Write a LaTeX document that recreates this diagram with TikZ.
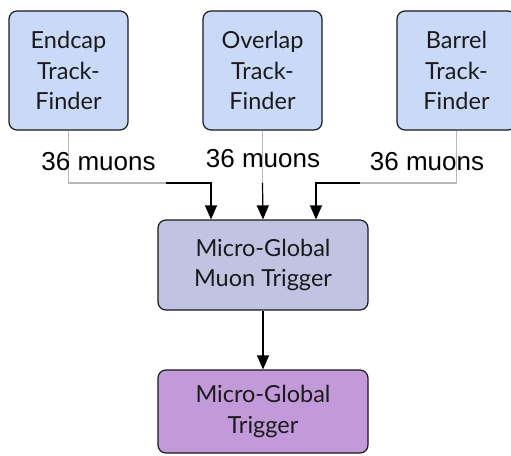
\documentclass[tikz,border=0pt]{standalone}
\usepackage{fontspec}
\setmainfont{Lato}
\newfontfamily\labelfont{Liberation Sans}
\usetikzlibrary{arrows.meta, positioning}

\begin{document}
\begin{tikzpicture}[
    x=1pt, y=-1pt,
    every node/.style={font=\fontsize{23.5}{30.5}\selectfont},
]

% ---------------------------------------------------------------- colours
\definecolor{tfcolor}{HTML}{C9DAF8}    % the three track-finders
\definecolor{gmtcolor}{HTML}{C0C3E2}   % muon trigger
\definecolor{gtcolor}{HTML}{C39AD9}    % global trigger
\definecolor{edgecolor}{HTML}{1A1A1A}
\definecolor{wirecolor}{HTML}{B8B8B8}

\tikzset{
    box/.style={draw=edgecolor, line width=1.2pt, rounded corners=8pt,
        align=center, text=edgecolor, inner sep=0pt},
    tfbox/.style={box, fill=tfcolor, minimum width=119pt, minimum height=119pt},
    trigbox/.style={box, minimum width=210pt},
    wire/.style={wirecolor, line width=1.2pt},
    feed/.style={-{Triangle[length=14pt, width=12pt]}, line width=1.2pt, black},
    count/.style={font=\labelfont\fontsize{26}{28}\selectfont, inner sep=0pt},
}

\useasboundingbox (0, 0) rectangle (511, 455);

% ================================================================
% Track-finders on top, muon trigger, then global trigger.
%   picture units are the reference pixels, y running downwards
% ================================================================

% ----------------------------------------------------------------------
% the three finders
% ----------------------------------------------------------------------
\node[tfbox] (endcap)  at (68.5, 70.5)  {Endcap\\Track-\\Finder};
\node[tfbox] (overlap) at (262.5, 70.5) {Overlap\\Track-\\Finder};
\node[tfbox] (barrel)  at (456.5, 70.5) {Barrel\\Track-\\Finder};

% ----------------------------------------------------------------------
% the two triggers
% ----------------------------------------------------------------------
\node[trigbox, fill=gmtcolor, minimum height=90pt] (ugmt) at (263, 265)
    {Micro-Global\\Muon Trigger};
\node[trigbox, fill=gtcolor, minimum height=83pt] (ugt) at (263, 411.5)
    {Micro-Global\\Trigger};

% ----------------------------------------------------------------------
% connectors: grey near the finders, black near the trigger
% ----------------------------------------------------------------------
\coordinate (ebend) at (endcap.south |- 0, 183);
\coordinate (efade) at (166, 183);
\coordinate (obend) at (overlap.south |- 0, 183);
\coordinate (bbend) at (barrel.south |- 0, 183);
\coordinate (bfade) at (360, 183);
\coordinate (ein) at ([xshift=-52pt]ugmt.north);
\coordinate (bin) at ([xshift=53pt]ugmt.north);

\draw[wire] (endcap.south) -- (ebend) -- (efade);
\draw[feed] (efade) -| (ein);

\draw[wire] (overlap.south) -- (obend);
\draw[feed] (obend) -- (ugmt.north);

\draw[wire] (barrel.south) -- (bbend) -- (bfade);
\draw[feed] (bfade) -| (bin);

\draw[feed] (ugmt.south) -- (ugt.north);

% ----------------------------------------------------------------------
% muon counts
% ----------------------------------------------------------------------
\node[count, anchor=base] (ecount) at (98.5, 170)  {36 muons};
\node[count, anchor=base] (ocount) at (263, 167)   {36 muons};
\node[count, anchor=base] (bcount) at (427, 170)   {36 muons};

\end{tikzpicture}
\end{document}
